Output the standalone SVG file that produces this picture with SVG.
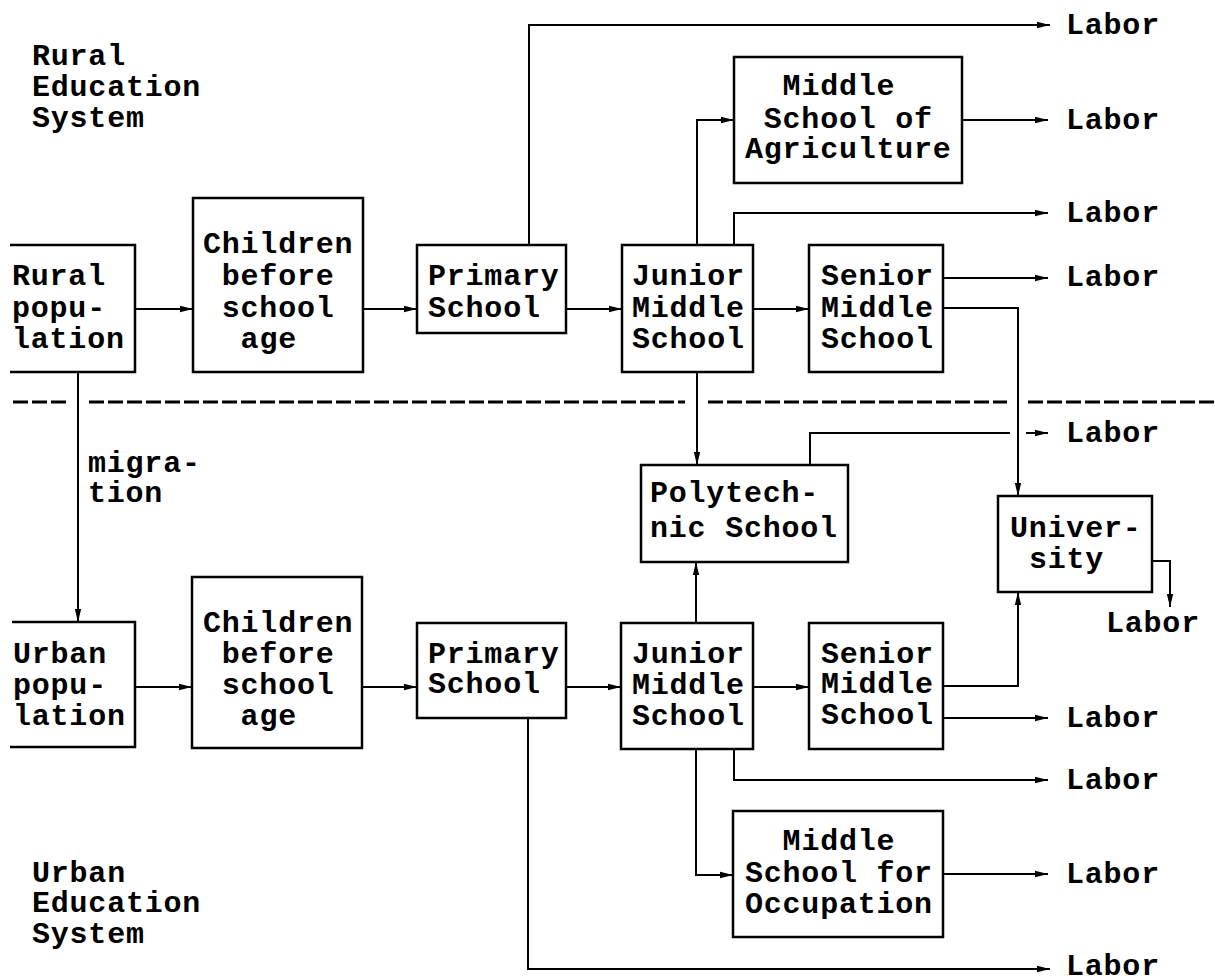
<svg xmlns="http://www.w3.org/2000/svg" width="1215" height="980" viewBox="0 0 1215 980">
<defs>
<marker id="ah" markerWidth="14" markerHeight="8" refX="13" refY="4" orient="auto" markerUnits="userSpaceOnUse">
<path d="M0,0.8 L13,4 L0,7.2 z" fill="#000"/>
</marker>
<style>
text{font-family:"Liberation Mono","Courier New",monospace;font-size:30px;letter-spacing:0.78px;font-weight:bold;fill:#000}
.box{fill:none;stroke:#000;stroke-width:2.5}
.c path{fill:none;stroke:#000;stroke-width:2}
.a{marker-end:url(#ah)}
.dash{stroke:#000;stroke-width:3;stroke-dasharray:15 4;fill:none}
</style>
</defs>
<rect width="1215" height="980" fill="#fff"/>

<g id="labels">
<text x="32" y="65">Rural</text>
<text x="32" y="96">Education</text>
<text x="32" y="127">System</text>
<text x="32" y="882">Urban</text>
<text x="32" y="912">Education</text>
<text x="32" y="943">System</text>
<text x="88" y="472">migra-</text>
<text x="88" y="502">tion</text>
</g>

<g id="divider">
<path class="dash" d="M13,402 H68 M89,402 H685 M708,402 H1007 M1028,402 H1215"/>
</g>

<g id="rural-pop">
<path class="box" d="M10,245 H135 V372 H10"/>
<text x="12" y="285">Rural</text>
<text x="12" y="317">popu-</text>
<text x="12" y="348">lation</text>
</g>
<g id="rural-children">
<rect class="box" x="193" y="198" width="170" height="174"/>
<text x="203" y="253">Children</text>
<text x="221.8" y="285">before</text>
<text x="221.8" y="317">school</text>
<text x="240.6" y="348">age</text>
</g>
<g id="rural-primary">
<rect class="box" x="417" y="245" width="149" height="88"/>
<text x="428" y="285">Primary</text>
<text x="428" y="317">School</text>
</g>
<g id="rural-junior">
<rect class="box" x="622" y="245" width="131" height="127"/>
<text x="632" y="285">Junior</text>
<text x="632" y="317">Middle</text>
<text x="632" y="348">School</text>
</g>
<g id="rural-senior">
<rect class="box" x="809" y="245" width="134" height="127"/>
<text x="821" y="285">Senior</text>
<text x="821" y="317">Middle</text>
<text x="821" y="348">School</text>
</g>
<g id="agriculture">
<rect class="box" x="734" y="57" width="228" height="126"/>
<text x="782.6" y="95">Middle</text>
<text x="763.8" y="128">School of</text>
<text x="745" y="158">Agriculture</text>
</g>
<g id="polytechnic">
<rect class="box" x="641" y="465" width="207" height="97"/>
<text x="650" y="502">Polytech-</text>
<text x="650" y="537">nic School</text>
</g>
<g id="university">
<rect class="box" x="998" y="496" width="154" height="96"/>
<text x="1010" y="537">Univer-</text>
<text x="1029" y="568">sity</text>
</g>
<g id="urban-pop">
<path class="box" d="M12,622 H135 V747 H10"/>
<text x="13" y="663">Urban</text>
<text x="13" y="694">popu-</text>
<text x="13" y="725">lation</text>
</g>
<g id="urban-children">
<rect class="box" x="192" y="577" width="170" height="171"/>
<text x="203" y="632">Children</text>
<text x="221.8" y="663">before</text>
<text x="221.8" y="694">school</text>
<text x="240.6" y="725">age</text>
</g>
<g id="urban-primary">
<rect class="box" x="417" y="623" width="149" height="95"/>
<text x="428" y="663">Primary</text>
<text x="428" y="693">School</text>
</g>
<g id="urban-junior">
<rect class="box" x="621" y="623" width="132" height="126"/>
<text x="632" y="663">Junior</text>
<text x="632" y="694">Middle</text>
<text x="632" y="725">School</text>
</g>
<g id="urban-senior">
<rect class="box" x="809" y="623" width="134" height="126"/>
<text x="821" y="663">Senior</text>
<text x="821" y="693">Middle</text>
<text x="821" y="724">School</text>
</g>
<g id="occupation">
<rect class="box" x="733" y="811" width="210" height="126"/>
<text x="782.6" y="850">Middle</text>
<text x="745" y="882">School for</text>
<text x="745" y="913">Occupation</text>
</g>

<g id="labor-labels">
<text x="1066" y="34">Labor</text>
<text x="1066" y="129">Labor</text>
<text x="1066" y="222">Labor</text>
<text x="1066" y="286">Labor</text>
<text x="1066" y="442">Labor</text>
<text x="1106" y="632">Labor</text>
<text x="1066" y="727">Labor</text>
<text x="1066" y="789">Labor</text>
<text x="1066" y="883">Labor</text>
<text x="1066" y="975">Labor</text>
</g>

<g id="connectors" class="c">
<path class="a" d="M135,309 H193"/>
<path class="a" d="M363,309 H417"/>
<path class="a" d="M566,309 H622"/>
<path class="a" d="M753,309 H809"/>
<path class="a" d="M529,245 V25 H1050"/>
<path class="a" d="M697,245 V120 H734"/>
<path class="a" d="M734,245 V213 H1048"/>
<path class="a" d="M962,120 H1048"/>
<path class="a" d="M943,278 H1048"/>
<path class="a" d="M943,308 H1018 V496"/>
<path class="a" d="M697,372 V465"/>
<path d="M810,465 V433 H1010"/>
<path class="a" d="M1026,433 H1048"/>
<path class="a" d="M78,372 V622"/>
<path class="a" d="M135,687 H192"/>
<path class="a" d="M362,687 H417"/>
<path class="a" d="M566,687 H621"/>
<path class="a" d="M753,687 H809"/>
<path class="a" d="M696,623 V562"/>
<path class="a" d="M943,686 H1018 V592"/>
<path class="a" d="M943,718 H1048"/>
<path class="a" d="M734,749 V780 H1048"/>
<path class="a" d="M696,749 V875 H733"/>
<path class="a" d="M943,874 H1048"/>
<path class="a" d="M528,718 V969 H1050"/>
<path class="a" d="M1152,561 H1170 V607"/>
</g>
</svg>
